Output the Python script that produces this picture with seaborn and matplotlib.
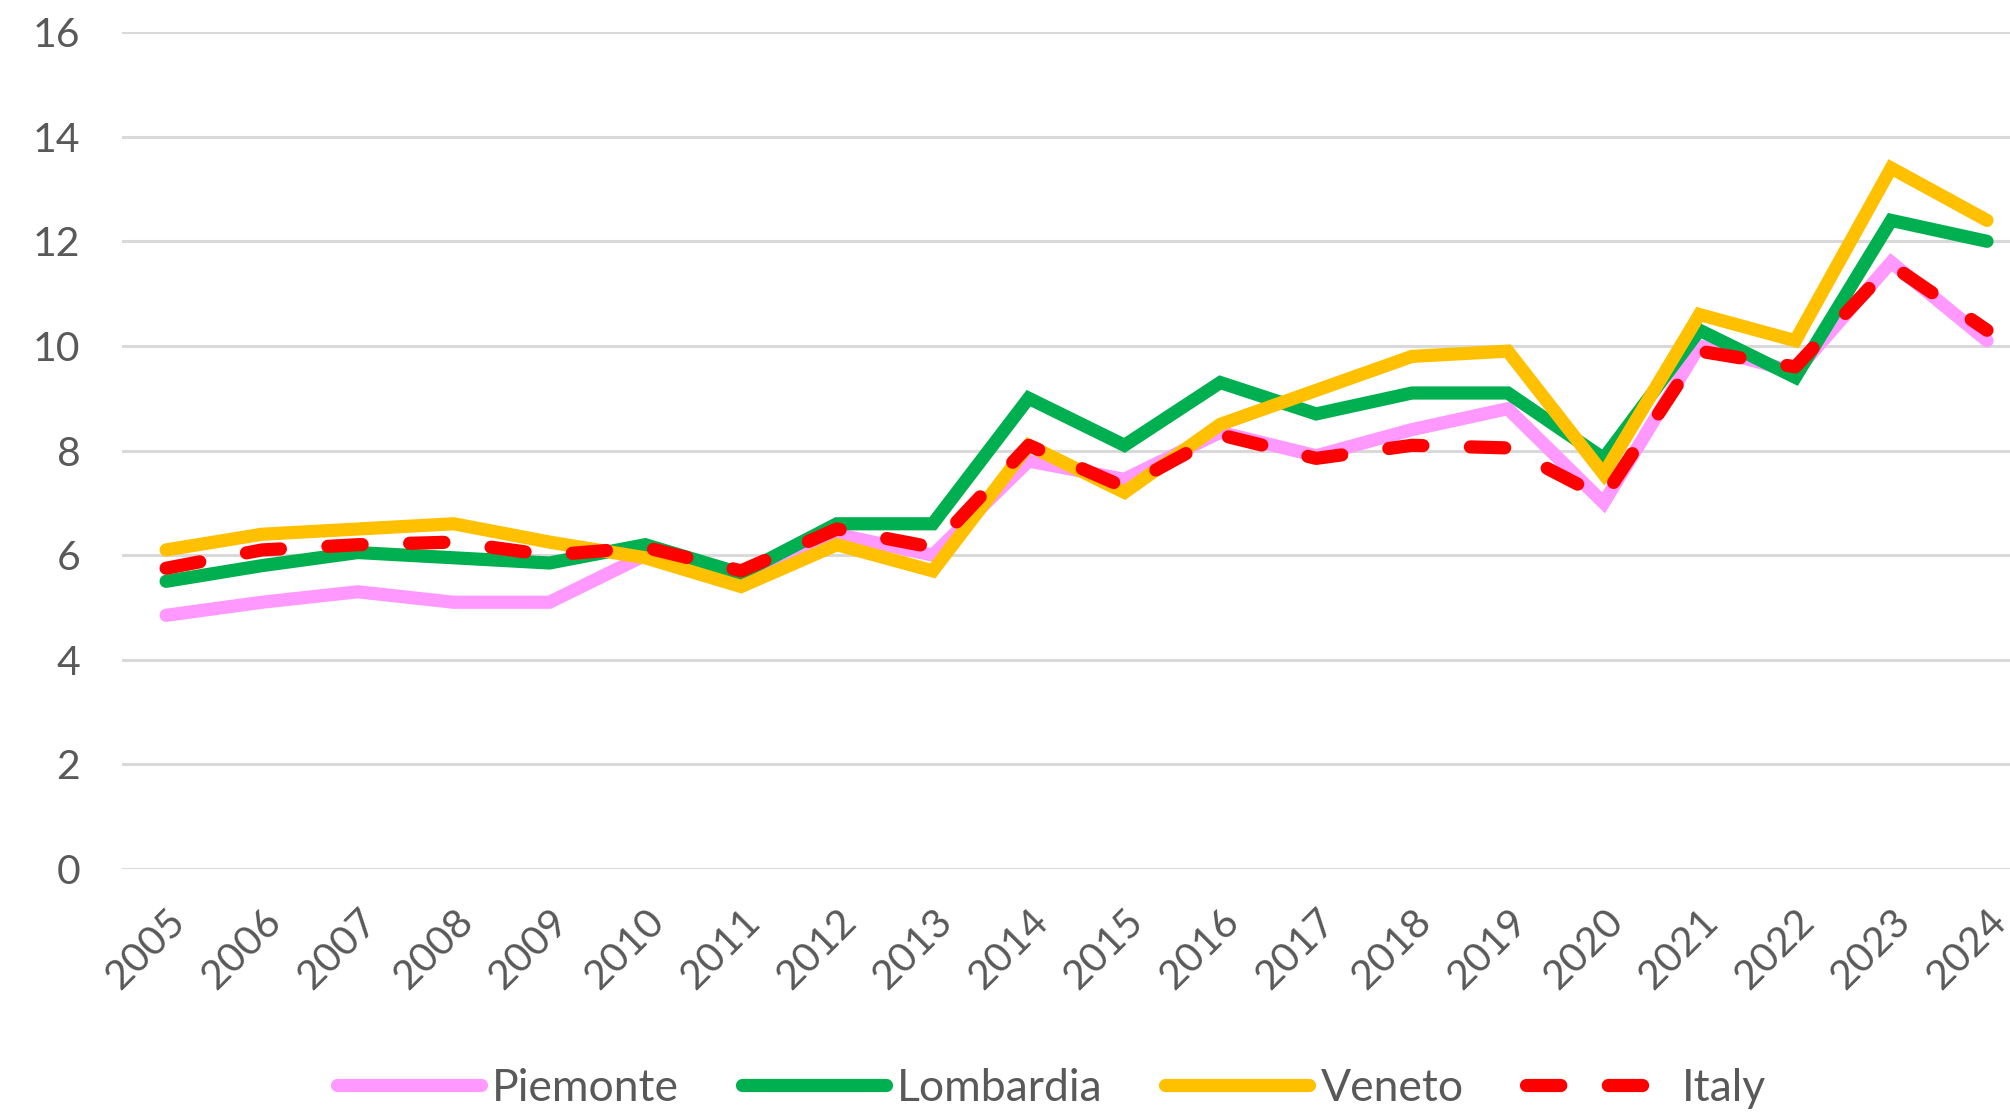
import matplotlib
matplotlib.use('Agg')
import matplotlib.pyplot as plt
import pandas as pd
import seaborn as sns

sns.set_style('white')
plt.rcParams['font.family'] = ['Lato', 'DejaVu Sans']

years = list(range(2005, 2025))
piemonte = [4.85, 5.1, 5.3, 5.1, 5.1, 6.0, 5.6, 6.4, 6.0, 7.8, 7.45, 8.35, 7.9, 8.4, 8.8, 7.0, 10.0, 9.5, 11.6, 10.1]
lombardia = [5.5, 5.8, 6.05, 5.95, 5.85, 6.2, 5.65, 6.6, 6.6, 9.0, 8.1, 9.3, 8.7, 9.1, 9.1, 7.85, 10.3, 9.4, 12.4, 12.0]
veneto = [6.1, 6.4, 6.5, 6.6, 6.25, 5.95, 5.4, 6.2, 5.7, 8.1, 7.2, 8.5, 9.15, 9.8, 9.9, 7.55, 10.6, 10.1, 13.4, 12.4]
italy = [5.75, 6.1, 6.2, 6.25, 6.0, 6.15, 5.7, 6.5, 6.15, 8.1, 7.3, 8.3, 7.85, 8.1, 8.05, 7.1, 9.9, 9.6, 11.55, 10.3]

series = ['Piemonte', 'Lombardia', 'Veneto', 'Italy']
colors = {'Piemonte': '#FF99FF', 'Lombardia': '#00B050', 'Veneto': '#FFC000', 'Italy': '#FF0000'}

df = pd.DataFrame({'year': years, 'Piemonte': piemonte, 'Lombardia': lombardia,
                   'Veneto': veneto, 'Italy': italy})

fig = plt.figure(figsize=(20.1, 11.13), dpi=100)
ax = fig.add_axes([0.0607, 0.2192, 0.9393, 0.752])

for name in series:
    style = (0, (2.6, 3.6)) if name == 'Italy' else '-'
    sns.lineplot(data=df, x='year', y=name, ax=ax, color=colors[name], linewidth=9.5,
                 linestyle=style, label=name, solid_capstyle='round',
                 dash_capstyle='round', solid_joinstyle='miter')

ax.set_xlim(2005 - 0.46, 2024 + 0.24)
ax.set_ylim(0, 16)
ax.set_yticks(range(0, 17, 2))
ax.set_xticks(years)
ax.set_xticklabels([str(y) for y in years], rotation=45, ha='right',
                   rotation_mode='anchor')
ax.grid(axis='y', color='#D9D9D9', linewidth=2.2)
ax.set_axisbelow(True)
for s in ax.spines.values():
    s.set_visible(False)
ax.tick_params(axis='both', length=0, labelsize=29.5, labelcolor='#595959')
ax.tick_params(axis='y', pad=30)
ax.tick_params(axis='x', pad=24)
ax.set_xlabel('')
ax.set_ylabel('')

ax.get_legend().remove()
handles, labels = ax.get_legend_handles_labels()
fig.legend(handles, labels, loc='center', bbox_to_anchor=(0.523, 0.022), ncol=4,
           frameon=False, fontsize=32, labelcolor='#595959', handlelength=3.25,
           handletextpad=0.25, columnspacing=1.4)

fig.savefig('out.png', dpi=100)
